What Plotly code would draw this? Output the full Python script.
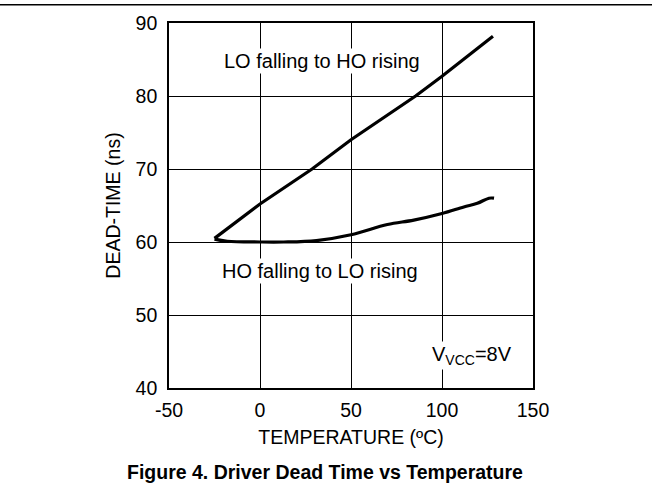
import plotly.graph_objects as go

# Data
temp_lo_ho = [-25, 0, 28.6, 50, 85.5, 100, 128]
dead_lo_ho = [60.5, 65.2, 70.0, 74.0, 80.0, 82.7, 88.2]

temp_ho_lo = [-25, -18, 0, 13, 31, 50, 70, 84.5, 100, 112, 119.4, 125.8, 128.6]
dead_ho_lo = [60.4, 60.1, 60.0, 60.0, 60.2, 61.0, 62.4, 63.0, 63.9, 64.8, 65.3, 66.0, 66.0]

x_ticks = [-50, 0, 50, 100, 150]
x_ticktext = ["-50", "0", "50", "100", "150"]
y_ticks = [40, 50, 60, 70, 80, 90]

FONT = "Liberation Sans, Arial, sans-serif"
FS = 19.5

fig = go.Figure()
fig.add_trace(go.Scatter(x=temp_lo_ho, y=dead_lo_ho, mode="lines",
                         line=dict(color="black", width=3.2), showlegend=False))
fig.add_trace(go.Scatter(x=temp_ho_lo, y=dead_ho_lo, mode="lines",
                         line=dict(color="black", width=3.2, shape="spline"),
                         showlegend=False))

fig.update_layout(
    width=652, height=492,
    margin=dict(l=169, r=119, t=20, b=104),
    paper_bgcolor="white", plot_bgcolor="white",
    font=dict(family=FONT, size=FS, color="black"),
    xaxis=dict(range=[-50, 150], tickvals=x_ticks, ticktext=x_ticktext,
               showgrid=True, gridcolor="black", gridwidth=1.2, zeroline=False,
               showline=True, linecolor="black", linewidth=1.6, mirror=True,
               ticks="", ticklabelstandoff=4,
               title=dict(text="TEMPERATURE (ºC)", standoff=10,
                          font=dict(size=FS))),
    yaxis=dict(range=[40, 90], tickvals=y_ticks, showgrid=True,
               gridcolor="black", gridwidth=1.2, zeroline=False,
               showline=True, linecolor="black", linewidth=1.6, mirror=True,
               ticks="", ticklabelstandoff=6,
               title=dict(text="DEAD-TIME (ns)", standoff=10,
                          font=dict(size=FS))),
    annotations=[
        dict(x=34, y=84.8, xref="x", yref="y", text="LO falling to HO rising",
             showarrow=False, bgcolor="white", font=dict(size=20)),
        dict(x=33, y=56.0, xref="x", yref="y", text="HO falling to LO rising",
             showarrow=False, bgcolor="white", font=dict(size=20)),
        dict(x=116.5, y=44.5, xref="x", yref="y", text="V<sub>VCC</sub>=8V",
             showarrow=False, bgcolor="white", font=dict(size=20)),
        dict(x=0.5, y=-0.229, xref="paper", yref="paper", yanchor="middle",
             text="<b>Figure 4. Driver Dead Time vs Temperature</b>",
             showarrow=False, font=dict(size=FS), xshift=-26),
    ],
    shapes=[
        dict(type="line", xref="paper", yref="paper",
             x0=-0.47, x1=1.33, y0=1.05, y1=1.05,
             line=dict(color="black", width=1.5)),
    ],
)

fig.write_html("out.html", config={"displayModeBar": False},
               post_script="document.body.style.margin='0px';")
